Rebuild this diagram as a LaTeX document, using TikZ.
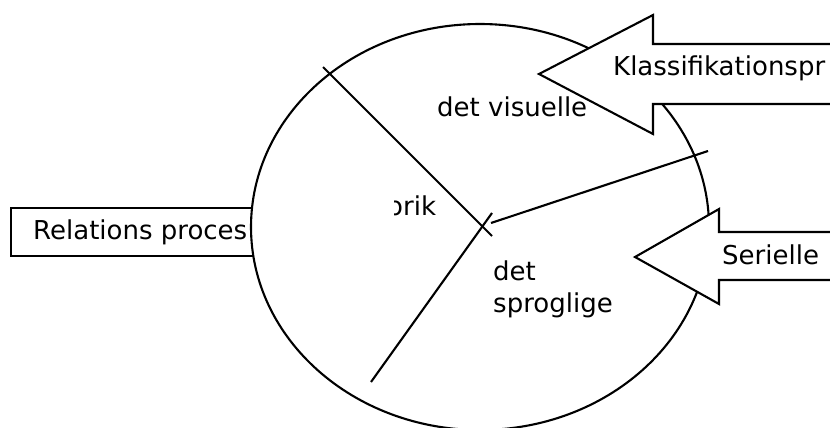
\documentclass[tikz,border=0pt]{standalone}
\usepackage{fontspec}
\setmainfont{DejaVu Sans}
\usetikzlibrary{shapes.geometric}
\begin{document}
\begin{tikzpicture}[x=1pt,y=-1pt,
  ln/.style={line width=2.1pt,line join=miter},
  lbl/.style={inner sep=0pt,anchor=base west,font=\fontsize{26}{30}\selectfont}]
\useasboundingbox (0,0) rectangle (830,428);
\clip (0,0) rectangle (830,428);
% left box
\draw[ln,fill=white] (11,208) rectangle (300,256);
\node[lbl] (rel) at (33,239) {Relations proces};
% ellipse
\node[ellipse,draw,ln,fill=white,minimum width=458pt,minimum height=406pt,inner sep=0pt] (ell) at (480,227) {};
% dividing lines
\coordinate (a1) at (323,67);
\coordinate (a2) at (492,236);
\coordinate (b1) at (371,382);
\coordinate (b2) at (492,213);
\coordinate (c1) at (491,223);
\coordinate (c2) at (708,151);
\draw[ln] (a1) -- (a2);
\draw[ln] (b1) -- (b2);
\draw[ln] (c1) -- (c2);
% texts
\node[lbl] (vis) at (437,117) {det visuelle};
\node[lbl] (det) at (493,280) {det};
\node[lbl] (spr) at (493,312) {sproglige};
\begin{scope}
\clip (394,180) rectangle (460,230);
\node[lbl] (ret) at (387,215) {orik};
\end{scope}
% arrows
\draw[ln,fill=white] (539,74) -- (653,15) -- (653,44) -- (840,44) -- (840,104) -- (653,104) -- (653,134) -- cycle;
\node[lbl] (kla) at (613,75) {Klassifikationspr};
\draw[ln,fill=white] (635,257) -- (719,209) -- (719,232) -- (840,232) -- (840,280) -- (719,280) -- (719,304) -- cycle;
\node[lbl] (ser) at (722,264) {Serielle};
\end{tikzpicture}
\end{document}
